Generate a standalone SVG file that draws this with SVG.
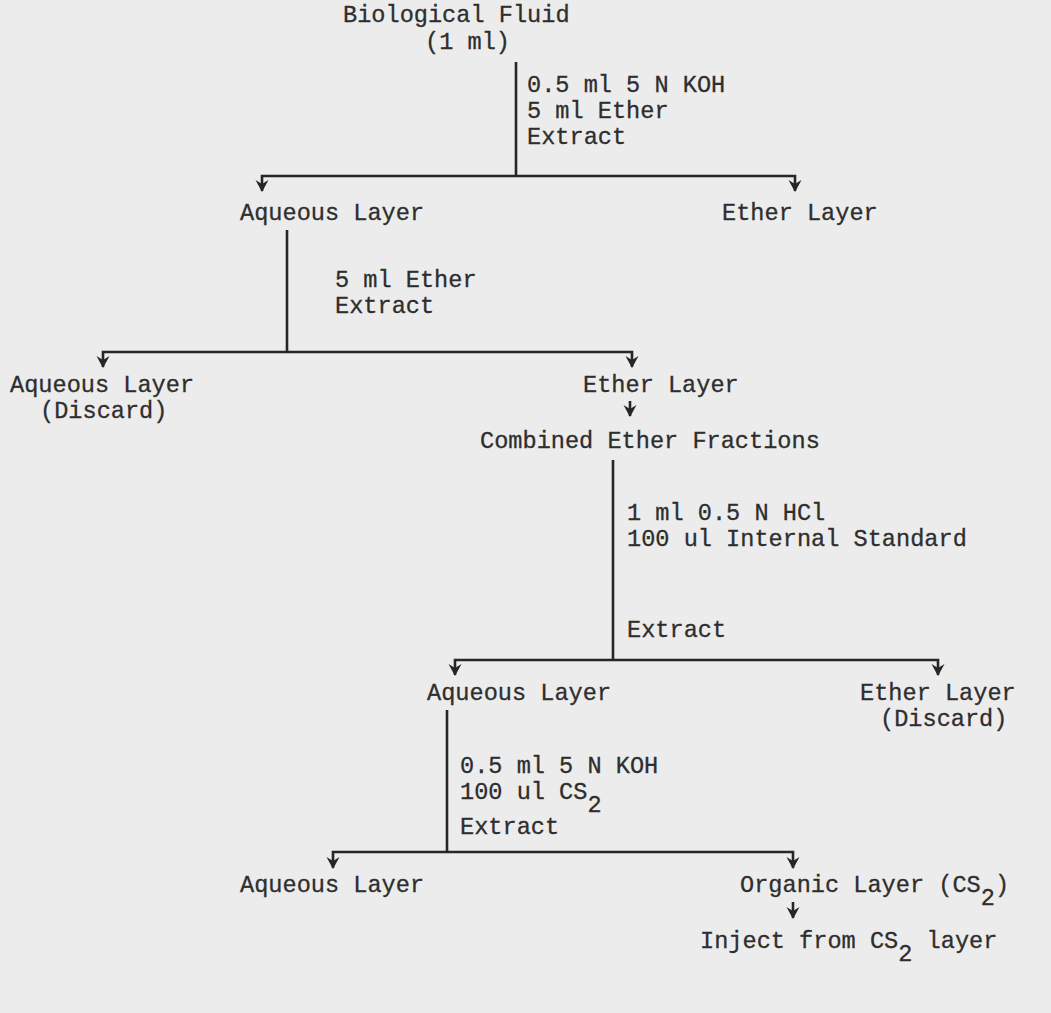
<svg xmlns="http://www.w3.org/2000/svg" width="1051" height="1013" viewBox="0 0 1051 1013">
<defs>
<style>
text{font-family:"Liberation Mono","DejaVu Sans Mono",monospace;font-size:23.6px;fill:#2e2e2e;stroke:#2e2e2e;stroke-width:0.3}
.c{fill:none;stroke:#262626;stroke-width:2.6}
</style>
<marker id="ah" markerUnits="userSpaceOnUse" markerWidth="18" markerHeight="18" viewBox="-14 -9 18 18" refX="0" refY="0" orient="auto">
<path d="M-11,-6.5 L1,0 L-11,6.5 L-7,0 Z" fill="#262626"/>
</marker>
</defs>
<rect width="1051" height="1013" fill="#ececec"/>
<g id="connectors">
<path class="c" d="M516,62 V176"/>
<path class="c" d="M516,176 H262 V191" marker-end="url(#ah)"/>
<path class="c" d="M516,176 H795 V191" marker-end="url(#ah)"/>
<path class="c" d="M287,230 V352"/>
<path class="c" d="M287,352 H103 V367" marker-end="url(#ah)"/>
<path class="c" d="M287,352 H632 V367" marker-end="url(#ah)"/>
<path class="c" d="M630,401 V416" marker-end="url(#ah)"/>
<path class="c" d="M613,460 V660"/>
<path class="c" d="M613,660 H455 V675" marker-end="url(#ah)"/>
<path class="c" d="M613,660 H938 V675" marker-end="url(#ah)"/>
<path class="c" d="M447,710 V852"/>
<path class="c" d="M447,852 H333 V868" marker-end="url(#ah)"/>
<path class="c" d="M447,852 H793 V868" marker-end="url(#ah)"/>
<path class="c" d="M793,902 V918" marker-end="url(#ah)"/>
</g>
<g id="n-bio"><text x="343" y="22">Biological Fluid</text><text x="425" y="49">(1 ml)</text></g>
<g id="l-step1"><text x="527" y="92">0.5 ml 5 N KOH</text><text x="527" y="118">5 ml Ether</text><text x="527" y="144">Extract</text></g>
<g id="n-aq1"><text x="240" y="220">Aqueous Layer</text></g>
<g id="n-eth1"><text x="722" y="220">Ether Layer</text></g>
<g id="l-step2"><text x="335" y="287">5 ml Ether</text><text x="335" y="313">Extract</text></g>
<g id="n-aq2"><text x="10" y="392">Aqueous Layer</text><text x="40" y="418">(Discard)</text></g>
<g id="n-eth2"><text x="583" y="392">Ether Layer</text></g>
<g id="n-comb"><text x="480" y="448">Combined Ether Fractions</text></g>
<g id="l-step3"><text x="627" y="520">1 ml 0.5 N HCl</text><text x="627" y="546">100 ul Internal Standard</text><text x="627" y="637">Extract</text></g>
<g id="n-aq3"><text x="427" y="700">Aqueous Layer</text></g>
<g id="n-eth3"><text x="860" y="700">Ether Layer</text><text x="880" y="726">(Discard)</text></g>
<g id="l-step4"><text x="460" y="773">0.5 ml 5 N KOH</text><text x="460" y="799">100 ul CS<tspan dy="13">2</tspan></text><text x="460" y="834">Extract</text></g>
<g id="n-aq4"><text x="240" y="892">Aqueous Layer</text></g>
<g id="n-org"><text x="740" y="892">Organic Layer (CS<tspan dy="13">2</tspan><tspan dy="-13">)</tspan></text></g>
<g id="n-inj"><text x="700" y="948">Inject from CS<tspan dy="13">2</tspan><tspan dy="-13"> layer</tspan></text></g>
</svg>
